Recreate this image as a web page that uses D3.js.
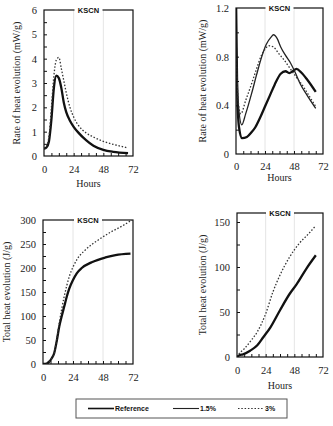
<!DOCTYPE html>
<html>
<head>
<meta charset="utf-8">
<script src="https://cdn.jsdelivr.net/npm/d3@7"></script>
<style>
  body { margin: 0; background: #fff; }
  svg { display: block; }
  .lab { font-family: "Liberation Serif", "DejaVu Serif", serif; font-size: 10px; fill: #222; }
  .ttl { font-family: "Liberation Sans", Arial, sans-serif; font-size: 7.5px; font-weight: bold; fill: #111; }
  .leg { font-family: "Liberation Sans", Arial, sans-serif; font-size: 7px; font-weight: bold; fill: #111; }
</style>
</head>
<body>
<svg width="333" height="426"></svg>
<script>
'use strict';

// hours / values
var xTicks = [0, 24, 48, 72];
var seriesNames = ["Reference", "1.5%", "3%"];

// top left: rate of heat evolution (mW/g)
var rateA_t   = [0, 2, 4, 6, 8, 10, 12, 14, 16, 18, 21, 24, 28, 34, 40, 48, 56, 68];
var rateA_ref = [0.3, 0.35, 0.6, 1.5, 2.8, 3.3, 3.2, 2.8, 2.2, 1.8, 1.45, 1.2, 0.95, 0.65, 0.42, 0.25, 0.17, 0.12];
var rateA_3   = [0.3, 0.4, 0.8, 2.0, 3.3, 3.95, 4.05, 3.6, 3.1, 2.6, 2.0, 1.6, 1.25, 0.95, 0.78, 0.6, 0.48, 0.33];
var rateA_yTicks = [0, 1, 2, 3, 4, 5, 6];

// top right
var rateB_ref_t = [0, 1, 2.5, 5, 9, 13, 16, 20, 24, 28, 32, 37, 41, 44, 47, 50, 54, 59, 66];
var rateB_ref   = [1.3, 0.5, 0.22, 0.13, 0.14, 0.18, 0.22, 0.3, 0.39, 0.48, 0.57, 0.66, 0.68, 0.665, 0.68, 0.7, 0.67, 0.61, 0.51];
var rateB_15_t  = [0, 2, 4.8, 8, 13, 17, 21, 25, 29, 31, 34, 37, 41, 45, 49, 53, 59, 66];
var rateB_15    = [1.0, 0.4, 0.24, 0.33, 0.5, 0.65, 0.79, 0.9, 0.96, 0.98, 0.95, 0.88, 0.81, 0.75, 0.67, 0.58, 0.48, 0.375];
var rateB_3_t   = [0, 2, 4, 8, 13, 17, 21, 24, 27, 31, 35, 40, 45, 50, 56, 61, 66];
var rateB_3     = [0.8, 0.42, 0.33, 0.44, 0.58, 0.7, 0.81, 0.86, 0.89, 0.88, 0.83, 0.77, 0.7, 0.63, 0.55, 0.47, 0.39];
var rateB_yTicks = [0, 0.4, 0.8, 1.2];

// bottom left: total heat evolution (J/g)
var totA_ref_t = [0, 3, 5, 7, 9, 11, 13, 15, 17, 19, 21, 24, 27, 31, 39, 50, 58, 70];
var totA_ref   = [0, 1, 5, 12, 23, 48, 78, 100, 120, 140, 157, 175, 189, 200, 212, 222, 227, 230];
var totA_3_t   = [0, 3, 5, 7, 9, 11, 13, 15, 17, 19, 21, 24, 27, 34, 44, 55, 63, 71];
var totA_3     = [0, 1, 5, 12, 23, 52, 85, 115, 141, 163, 182, 202, 217, 238, 258, 276, 287, 300];
var totA_yTicks = [0, 50, 100, 150, 200, 250, 300];

// bottom right
var totB_ref_t = [0, 2, 5, 11, 17, 22, 28, 36, 44, 50, 58, 66];
var totB_ref   = [0, 2, 3, 7, 13, 22, 33, 52, 70, 81, 98, 113];
var totB_3_t   = [0, 2, 6, 11, 17, 24, 30, 36, 44, 52, 60, 66];
var totB_3     = [0, 4, 9, 17, 28, 48, 72, 91, 111, 126, 137, 146];
var totB_yTicks = [0, 50, 100, 150];

function zip(t, v) { return t.map(function(d, i) { return {t: d, v: v[i]}; }); }

var styles = {
  "Reference": {w: 2.3, dash: null, col: "#111"},
  "1.5%": {w: 1.3, dash: null, col: "#222"},
  "3%": {w: 1.3, dash: "1.5,1.8", col: "#333"}
};

var svg = d3.select("svg");

function panel(cfg, idx) {
  var x = d3.scaleLinear().domain([0, 72]).range([cfg.left, cfg.right]);
  var y = d3.scaleLinear().domain([0, cfg.yMax]).range([cfg.bottom, cfg.top]);
  var g = svg.append("g");

  // faint verticals at 24 and 48
  g.selectAll(".grid").data([24, 48]).enter().append("line")
    .attr("x1", function(d) { return x(d); }).attr("x2", function(d) { return x(d); })
    .attr("y1", cfg.top).attr("y2", cfg.bottom)
    .attr("stroke", "#ddd").attr("stroke-width", 0.8);

  var clipId = "clip" + idx;
  g.append("clipPath").attr("id", clipId).append("rect")
    .attr("x", cfg.left).attr("y", cfg.top)
    .attr("width", cfg.right - cfg.left).attr("height", cfg.bottom - cfg.top);

  var line = d3.line()
    .x(function(d) { return x(d.t); })
    .y(function(d) { return y(d.v); })
    .curve(d3.curveMonotoneX);

  cfg.series.forEach(function(s) {
    var st = styles[s.name];
    g.append("path")
      .attr("clip-path", "url(#" + clipId + ")")
      .attr("d", line(s.data))
      .attr("fill", "none")
      .attr("stroke", st.col)
      .attr("stroke-width", st.w)
      .attr("stroke-dasharray", st.dash)
      .attr("stroke-linejoin", "round");
  });

  // frame
  g.append("rect")
    .attr("x", cfg.left).attr("y", cfg.top)
    .attr("width", cfg.right - cfg.left).attr("height", cfg.bottom - cfg.top)
    .attr("fill", "none").attr("stroke", "#111").attr("stroke-width", 1.2);

  var serif = function(a) {
    a.select(".domain").remove();
    a.selectAll("text")
      .style("font-family", "'Liberation Serif', 'DejaVu Serif', serif")
      .style("font-size", "10.5px")
      .attr("fill", "#222");
  };

  // axes
  var xAxis = d3.axisBottom(x).tickValues(xTicks).tickSize(0).tickPadding(cfg.xPad);
  g.append("g").attr("transform", "translate(0," + cfg.bottom + ")").call(xAxis).call(serif);
  // minor ticks along bottom
  g.append("g").attr("transform", "translate(0," + cfg.bottom + ")")
    .call(d3.axisTop(x).tickValues(d3.range(6, 72, 6)).tickSize(3).tickFormat(""))
    .call(function(a) { a.select(".domain").remove(); a.selectAll("line").attr("stroke", "#111"); });

  var yAxis = d3.axisLeft(y).tickValues(cfg.yTicks).tickSize(0).tickPadding(7)
    .tickFormat(function(d) { return d === 0 ? "0" : String(d); });
  g.append("g").attr("transform", "translate(" + cfg.left + ",0)").call(yAxis).call(serif);
  var step = cfg.yTicks[1] - cfg.yTicks[0];
  var minor = d3.range(step / 2, cfg.yMax, step / 2);
  g.append("g").attr("transform", "translate(" + cfg.left + ",0)")
    .call(d3.axisRight(y).tickValues(minor).tickSize(3).tickFormat(""))
    .call(function(a) { a.select(".domain").remove(); a.selectAll("line").attr("stroke", "#111"); });

  // KSCN title breaking the top border
  var cx = (cfg.left + cfg.right) / 2;
  g.append("rect").attr("x", cx - 14).attr("y", cfg.top - 3).attr("width", 28).attr("height", 6).attr("fill", "#fff");
  g.append("text").attr("class", "ttl").attr("x", cx).attr("y", cfg.top + 2.7)
    .attr("text-anchor", "middle").text("KSCN");

  g.append("text").attr("class", "lab")
    .attr("transform", "translate(" + cfg.yLabX + "," + ((cfg.top + cfg.bottom) / 2) + ") rotate(-90)")
    .attr("text-anchor", "middle").text(cfg.yLabel);

  if (cfg.hoursY) {
    g.append("text").attr("class", "lab").attr("x", x(36)).attr("y", cfg.hoursY)
      .attr("text-anchor", "middle").text("Hours");
  }
}

var panels = [
  {left: 44, right: 133, top: 10, bottom: 156, yMax: 6, yTicks: rateA_yTicks, xPad: 10,
   yLabel: "Rate of heat evolution (mW/g)", yLabX: 20, hoursY: 187,
   series: [{name: "Reference", data: zip(rateA_t, rateA_ref)}, {name: "3%", data: zip(rateA_t, rateA_3)}]},
  {left: 236, right: 323, top: 8, bottom: 154, yMax: 1.2, yTicks: rateB_yTicks, xPad: 9,
   yLabel: "Rate of heat evolution (mW/g)", yLabX: 206, hoursY: 181,
   series: [{name: "Reference", data: zip(rateB_ref_t, rateB_ref)},
            {name: "1.5%", data: zip(rateB_15_t, rateB_15)},
            {name: "3%", data: zip(rateB_3_t, rateB_3)}]},
  {left: 43, right: 133, top: 220, bottom: 364, yMax: 300, yTicks: totA_yTicks, xPad: 10,
   yLabel: "Total heat evolution (J/g)", yLabX: 10, hoursY: null,
   series: [{name: "Reference", data: zip(totA_ref_t, totA_ref)}, {name: "3%", data: zip(totA_3_t, totA_3)}]},
  {left: 237, right: 323, top: 213, bottom: 357, yMax: 160, yTicks: totB_yTicks, xPad: 10,
   yLabel: "Total heat evolution (J/g)", yLabX: 206, hoursY: 389,
   series: [{name: "Reference", data: zip(totB_ref_t, totB_ref)}, {name: "3%", data: zip(totB_3_t, totB_3)}]}
];

panels.forEach(panel);

// legend
var leg = svg.append("g");
leg.append("rect").attr("x", 76).attr("y", 399).attr("width", 211).attr("height", 19)
  .attr("fill", "none").attr("stroke", "#555").attr("stroke-width", 1);
var legX = [88, 173, 238];
seriesNames.forEach(function(n, i) {
  var st = styles[n];
  leg.append("line").attr("x1", legX[i]).attr("x2", legX[i] + 26).attr("y1", 408.5).attr("y2", 408.5)
    .attr("stroke", st.col).attr("stroke-width", n === "Reference" ? 1.6 : 1.1)
    .attr("stroke-dasharray", st.dash);
  leg.append("text").attr("class", "leg").attr("x", legX[i] + 27).attr("y", 411).text(n);
});
</script>
</body>
</html>
